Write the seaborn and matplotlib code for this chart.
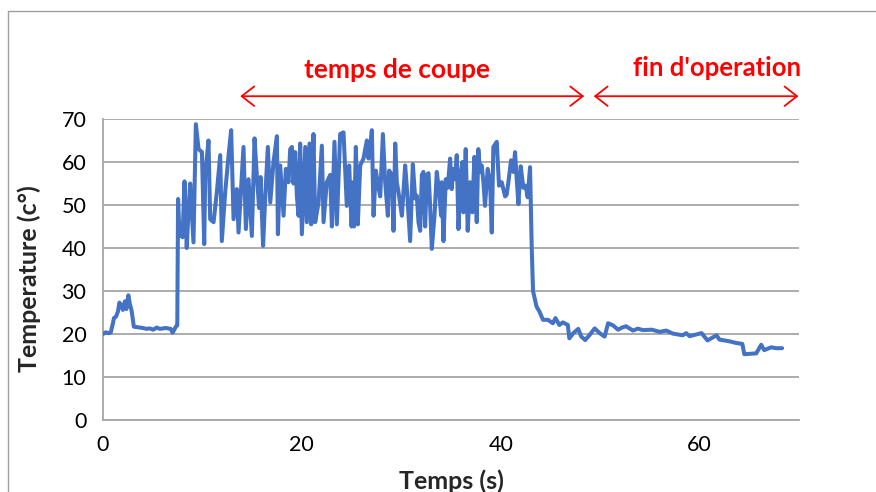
import numpy as np
import pandas as pd
import seaborn as sns
import matplotlib
matplotlib.use("Agg")
import matplotlib.pyplot as plt
from matplotlib.lines import Line2D

# Temperature record: warm-up, cutting phase, end of operation
warmup_t = [0.0, 0.3, 0.5, 0.77, 1.0, 1.1, 1.3, 1.5, 1.65, 1.8, 2.0, 2.2, 2.35, 2.55,
            2.7, 2.88, 3.1, 3.4, 3.7, 4.0, 4.4, 4.7, 5.05, 5.4, 5.7, 6.06, 6.3, 6.56,
            6.8, 7.0, 7.33, 7.47]
warmup_T = [20.0, 20.4, 20.2, 20.3, 22.5, 23.7, 24.0, 25.2, 27.3, 26.8, 25.6, 27.6, 25.8, 29.0,
            27.0, 25.4, 21.7, 21.6, 21.5, 21.4, 21.2, 21.3, 21.0, 21.5, 21.2, 21.3, 21.4, 21.3,
            21.2, 20.3, 21.7, 22.0]

cutting_t = [7.55, 7.7, 7.85, 8.0, 8.2, 8.42, 8.6, 8.77, 9.1, 9.34, 9.61, 9.95, 10.18, 10.28,
             10.61, 10.78, 11.12, 11.45, 11.79, 11.95, 12.29, 12.63, 12.89, 13.13, 13.46, 13.63,
             14.13, 14.37, 14.64, 14.97, 15.24, 15.47, 15.7, 15.85, 16.1, 16.32, 16.58, 16.82,
             17.15, 17.49, 17.59, 17.82, 18.16, 18.39, 18.66, 18.83, 19.0, 19.16, 19.33, 19.5,
             19.67, 19.83, 20.0, 20.34, 20.5, 20.77, 20.94, 21.17, 21.34, 21.68, 22.01, 22.18,
             22.51, 22.85, 23.02, 23.28, 23.52, 23.85, 24.19, 24.52, 24.76, 25.0, 25.15, 25.25,
             25.43, 25.63, 25.87, 26.2, 26.37, 26.54, 26.7, 26.87, 27.04, 27.21, 27.44, 27.71,
             27.88, 28.15, 28.38, 28.65, 28.78, 29.05, 29.22, 29.39, 29.55, 29.72, 30.06, 30.39,
             30.56, 30.89, 31.16, 31.4, 31.56, 31.73, 31.9, 32.07, 32.23, 32.4, 32.57, 32.74,
             32.9, 33.07, 33.34, 33.57, 33.81, 34.01, 34.07, 34.24, 34.47, 34.67, 34.91, 35.07,
             35.24, 35.41, 35.58, 35.75, 36.01, 36.15, 36.25, 36.48, 36.68, 36.92, 37.15, 37.35,
             37.59, 37.75, 37.92, 38.09, 38.26, 38.42, 38.69, 38.93, 39.1, 39.26, 39.6, 39.83,
             40.1, 40.44, 40.6, 40.77, 41.04, 41.27, 41.44, 41.61, 41.78, 42.01, 42.28, 42.51,
             42.71, 42.95]
cutting_T = [51.4, 42.8, 43.5, 42.5, 55.5, 40.0, 48.7, 55.0, 41.3, 68.8, 63.0, 62.3, 40.9, 57.0,
             65.0, 46.7, 46.0, 53.0, 61.6, 41.6, 53.0, 61.6, 67.4, 46.7, 53.7, 43.6,
             63.5, 44.4, 56.0, 42.8, 65.5, 57.0, 49.3, 56.5, 40.5, 52.0, 63.5, 50.6,
             60.0, 66.0, 43.2, 59.2, 47.5, 58.4, 55.3, 63.0, 63.5, 55.0, 62.3, 52.0,
             47.5, 64.3, 43.2, 63.5, 46.0, 64.3, 45.5, 66.5, 46.0, 50.6, 63.8, 46.0,
             55.3, 57.0, 45.0, 64.7, 45.5, 66.5, 66.9, 49.8, 59.2, 45.0, 55.3, 45.0,
             63.5, 45.5, 59.2, 60.8, 63.0, 65.0, 60.8, 63.5, 67.4, 47.5, 58.0, 54.0,
             52.0, 66.5, 55.3, 47.5, 58.0, 57.0, 44.0, 64.3, 55.3, 53.0, 47.5, 59.2,
             54.0, 41.6, 59.5, 51.5, 52.2, 46.0, 44.0, 57.0, 57.7, 45.0, 57.0, 57.4,
             49.8, 39.8, 47.5, 57.7, 53.0, 47.5, 55.3, 41.6, 56.0, 54.0, 60.8, 53.7,
             58.4, 56.0, 61.6, 44.4, 58.0, 60.0, 48.3, 63.0, 44.0, 55.3, 48.3, 61.2,
             46.0, 63.0, 57.7, 59.2, 55.3, 49.8, 58.4, 55.3, 43.6, 63.5, 64.7, 54.5,
             55.3, 52.0, 52.4, 55.3, 60.4, 57.7, 62.3, 56.0, 50.2, 59.0, 54.0, 54.5,
             51.8, 58.8]

cooldown_t = [43.12, 43.25, 43.6, 43.9, 44.25, 44.75, 45.25, 45.5, 45.9, 46.25, 46.75, 46.9,
              47.3, 47.8, 48.1, 48.5, 48.95, 49.45, 49.95, 50.45, 50.8, 51.3, 51.8, 52.2,
              52.6, 53.3, 53.8, 54.3, 55.2, 56.0, 56.65, 57.3, 58.3, 58.65, 59.0, 60.2,
              60.8, 61.7, 62.0, 63.0, 63.7, 64.3, 64.5, 65.7, 66.2, 66.5, 67.2, 67.7, 68.3]
cooldown_T = [40.0, 30.0, 26.4, 25.2, 23.3, 23.3, 22.5, 23.7, 22.1, 22.7, 22.1, 19.0,
              20.2, 21.2, 19.4, 18.6, 19.8, 21.3, 20.2, 19.4, 22.5, 22.0, 21.0, 21.5,
              21.8, 20.8, 21.25, 20.9, 21.0, 20.5, 20.8, 20.1, 19.7, 20.2, 19.5, 20.2,
              18.5, 19.7, 18.7, 18.3, 17.9, 17.7, 15.3, 15.5, 17.5, 16.25, 16.9, 16.7, 16.7]

x_ticks = [0, 20, 40, 60]
y_ticks = [0, 10, 20, 30, 40, 50, 60, 70]

df = pd.DataFrame({
    "Temps (s)": warmup_t + cutting_t + cooldown_t,
    "Temperature (c°)": warmup_T + cutting_T + cooldown_T,
})

sns.set_theme(style="white")
plt.rcParams["font.family"] = ["Lato", "DejaVu Sans"]

W, H = 876, 492
fig = plt.figure(figsize=(W / 100, H / 100), dpi=100)
ax = fig.add_axes([103 / W, 1 - 420 / H, (799 - 103) / W, (420 - 119) / H])

sns.lineplot(data=df, x="Temps (s)", y="Temperature (c°)", ax=ax, sort=False,
             estimator=None, color="#4472C4", linewidth=2.9, zorder=3)

ax.set_xlim(0, 70)
ax.set_ylim(0, 70)
ax.set_xticks(x_ticks)
ax.set_yticks(y_ticks)
ax.set_xticklabels([str(v) for v in x_ticks], fontsize=15.5)
ax.set_yticklabels([str(v) for v in y_ticks], fontsize=15.5)
ax.yaxis.grid(True, color="#A6A6A6", linewidth=1.3)
ax.xaxis.grid(False)
for side in ["top", "right"]:
    ax.spines[side].set_visible(False)
for side in ["left", "bottom"]:
    ax.spines[side].set_color("#A6A6A6")
    ax.spines[side].set_linewidth(1.3)
ax.tick_params(axis="both", which="major", direction="out", length=5, width=1,
               color="#A6A6A6", labelcolor="black")
ax.tick_params(axis="x", pad=6)
ax.tick_params(axis="y", pad=7)

ax.set_xlabel("Temps (s)", fontsize=18, fontweight="bold", va="top")
ax.set_ylabel("Temperature (c°)", fontsize=18, fontweight="bold")
ax.xaxis.set_label_coords(0.5, (420 - 469) / 301)
ax.yaxis.set_label_coords((41 - 103) / 696, (420 - 279) / 301)

# Phase annotations above the plot
red = "#FF0000"
arrow_kw = dict(arrowstyle="<->,head_length=0.45,head_width=0.35", color=red,
                lw=1.3, mutation_scale=20, shrinkA=0, shrinkB=0)
ax.annotate("", xy=(48.4, 75.3), xytext=(13.8, 75.3), arrowprops=arrow_kw,
            annotation_clip=False)
ax.annotate("", xy=(69.95, 75.3), xytext=(49.35, 75.3), arrowprops=arrow_kw,
            annotation_clip=False)
ax.text(29.55, 81.3, "temps de coupe", color=red, fontsize=19, fontweight="bold",
        ha="center", va="center", clip_on=False)
ax.text(61.8, 81.8, "fin d'operation", color=red, fontsize=18.5, fontweight="bold",
        ha="center", va="center", clip_on=False)

# Outer frame on the left and top edges
frame_c = "#A0A0A0"
fig.add_artist(Line2D([8 / W, 8 / W], [0, 1 - 11 / H], color=frame_c, lw=1,
                      transform=fig.transFigure))
fig.add_artist(Line2D([8 / W, 1], [1 - 11 / H, 1 - 11 / H], color=frame_c, lw=1,
                      transform=fig.transFigure))

fig.savefig("out.png", dpi=100, facecolor="white")
